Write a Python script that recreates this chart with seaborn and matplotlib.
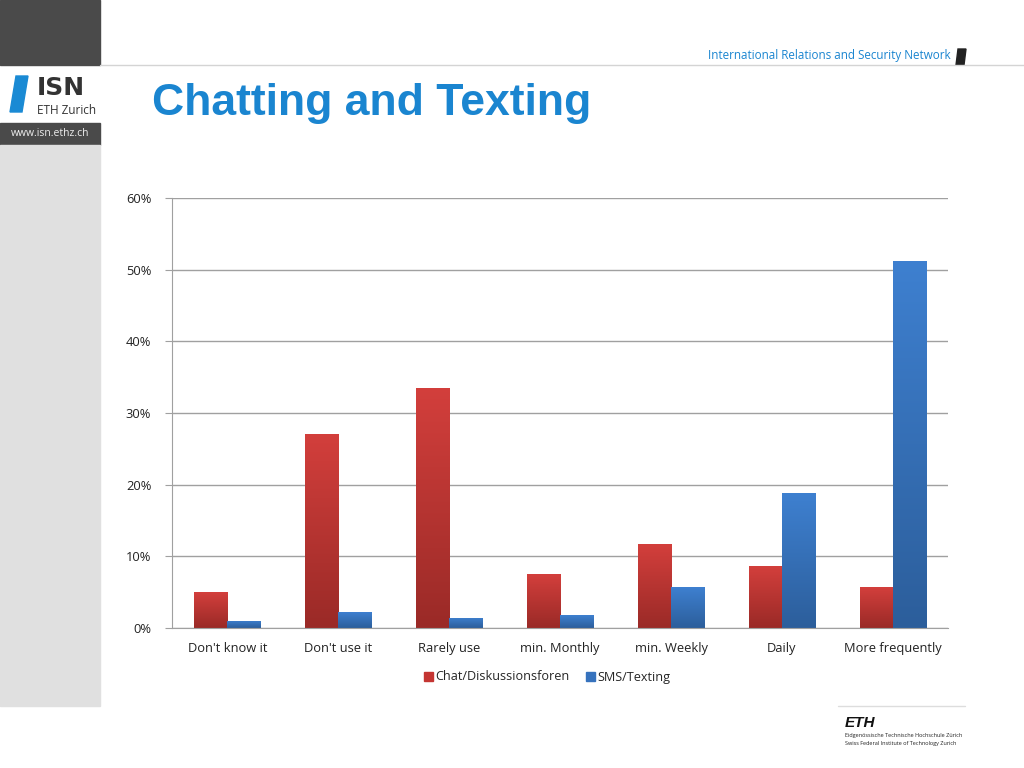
import numpy as np
import pandas as pd
import seaborn as sns
import matplotlib.pyplot as plt
from matplotlib.patches import Rectangle, Polygon
from matplotlib.colors import LinearSegmentedColormap

# Данные
categories = ["Don't know it", "Don't use it", "Rarely use", "min. Monthly",
              "min. Weekly", "Daily", "More frequently"]
chat_values = [5.0, 27.1, 33.5, 7.5, 11.7, 8.6, 5.7]
sms_values = [1.0, 2.2, 1.4, 1.8, 5.7, 18.8, 51.2]
series_names = ["Chat/Diskussionsforen", "SMS/Texting"]
y_ticks = [0, 10, 20, 30, 40, 50, 60]

df = pd.DataFrame({
    'category': categories * 2,
    'value': chat_values + sms_values,
    'series': [series_names[0]] * len(categories) + [series_names[1]] * len(categories),
})

sns.set_style('white')
plt.rcParams['font.family'] = ['Open Sans', 'DejaVu Sans']

fig = plt.figure(figsize=(10.24, 7.68), dpi=100)

# Фон слайда
bg = fig.add_axes([0, 0, 1, 1])
bg.set_xlim(0, 1024)
bg.set_ylim(768, 0)
bg.axis('off')
bg.add_patch(Rectangle((0, 0), 100, 65, color='#4a4a4a'))
bg.add_patch(Rectangle((0, 123), 100, 22, color='#4a4a4a'))
bg.add_patch(Rectangle((0, 145), 100, 561, color='#e0e0e0'))
bg.plot([100, 1024], [65, 65], color='#d4d4d4', lw=1)
bg.add_patch(Polygon([[16, 76], [28, 76], [22, 112], [10, 112]], color='#1a8ad4'))
bg.text(37, 95, 'ISN', fontsize=18, fontweight='bold', color='#333333',
        family='Liberation Sans Narrow', va='baseline')
bg.text(37, 114, 'ETH Zurich', fontsize=8.5, color='#333333', va='baseline')
bg.text(50, 134, 'www.isn.ethz.ch', fontsize=7.5, color='#eeeeee', ha='center', va='center')
bg.text(152, 103, 'Chatting and Texting', fontsize=32, fontweight='bold',
        color='#1a85d0', family='Liberation Sans', va='center')
bg.text(951, 56, 'International Relations and Security Network', fontsize=8.4,
        color='#1a85d0', ha='right', va='center')
bg.add_patch(Polygon([[958, 49], [966, 49], [964, 65], [956, 65]], color='#222222'))
bg.plot([838, 965], [706, 706], color='#dddddd', lw=1)
bg.text(845, 723, 'ETH', fontsize=11, fontweight='bold', style='italic',
        family='Liberation Sans', color='#111111', va='center')
bg.text(845, 736, 'Eidgenössische Technische Hochschule Zürich', fontsize=4,
        color='#222222', va='center')
bg.text(845, 743, 'Swiss Federal Institute of Technology Zurich', fontsize=4,
        color='#222222', va='center')

# График
ax = fig.add_axes([0.168, 0.1823, 0.758, 0.560])
palette = {series_names[0]: '#c43532', series_names[1]: '#3672bd'}
sns.barplot(data=df, x='category', y='value', hue='series', palette=palette,
            width=0.6, gap=0, saturation=1, ax=ax, legend=False)

# Градиентная заливка столбцов
grads = [LinearSegmentedColormap.from_list('r', ['#9a2a27', '#d33f3c']),
         LinearSegmentedColormap.from_list('b', ['#2c5e9b', '#3e80d0'])]
grad = np.linspace(0, 1, 256).reshape(-1, 1)
for cont, cmap in zip(ax.containers, grads):
    for p in cont:
        x0, y0 = p.get_x(), p.get_y()
        w, h = p.get_width(), p.get_height()
        im = ax.imshow(grad, cmap=cmap, origin='lower', aspect='auto',
                       extent=[x0, x0 + w, y0, y0 + h], zorder=p.get_zorder())
        im.set_clip_path(p)
        p.set_alpha(0)

ax.set_xlim(-0.5, len(categories) - 0.5)
ax.set_ylim(0, 60)
ax.set_yticks(y_ticks)
ax.set_yticklabels([f'{t}%' for t in y_ticks], fontsize=9.3, color='#222222')
ax.set_xticks(range(len(categories)))
ax.set_xticklabels(categories, fontsize=9.3, color='#222222')
ax.set_xticks(np.arange(-0.5, len(categories)), minor=True)
ax.tick_params(axis='x', which='major', length=0, pad=10)
ax.tick_params(axis='x', which='minor', length=5, color='#a0a0a0', direction='out')
ax.tick_params(axis='y', length=5, color='#a0a0a0', direction='out', pad=10, left=True)
ax.set_xlabel('')
ax.set_ylabel('')

ax.set_axisbelow(True)
ax.yaxis.grid(True, color='#a0a0a0', linewidth=1)
ax.xaxis.grid(False)
for s in ['top', 'right']:
    ax.spines[s].set_visible(False)
for s in ['left', 'bottom']:
    ax.spines[s].set_color('#a0a0a0')

handles = [Rectangle((0, 0), 1, 1, color=palette[n]) for n in series_names]
fig.legend(handles, series_names, loc='center', bbox_to_anchor=(547 / 1024, 1 - 677 / 768),
           ncol=2, frameon=False, fontsize=9.1, handlelength=0.7, handleheight=0.7,
           handletextpad=0.2, columnspacing=1.3)

fig.savefig('out.png', dpi=100)
